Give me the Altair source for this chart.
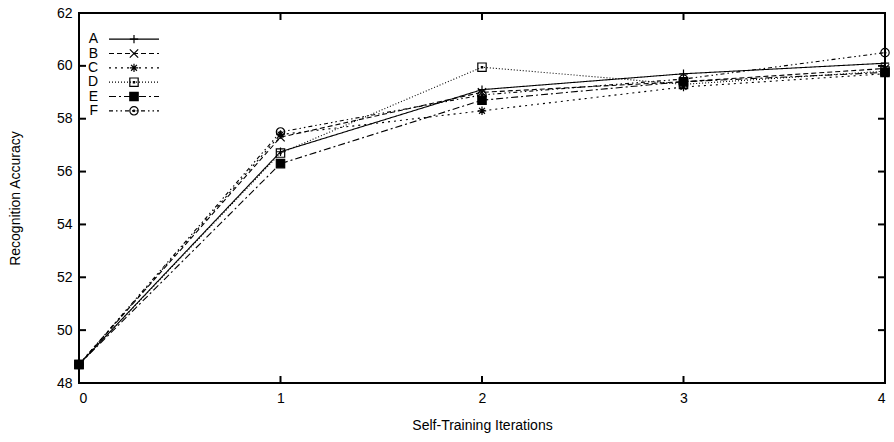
import altair as alt
import pandas as pd

iterations = [0, 1, 2, 3, 4]
series_names = ["A", "B", "C", "D", "E", "F"]
acc_A = [48.7, 56.75, 59.1, 59.7, 60.1]
acc_B = [48.7, 57.3, 59.0, 59.4, 59.9]
acc_C = [48.7, 57.4, 58.3, 59.2, 59.7]
acc_D = [48.7, 56.7, 59.95, 59.3, 59.8]
acc_E = [48.7, 56.3, 58.7, 59.4, 59.75]
acc_F = [48.7, 57.5, 58.9, 59.5, 60.5]
y_ticks = [48, 50, 52, 54, 56, 58, 60, 62]

all_series = [acc_A, acc_B, acc_C, acc_D, acc_E, acc_F]
rows = []
for name, vals in zip(series_names, all_series):
    for it, v in zip(iterations, vals):
        rows.append({"series": name, "iter": it, "acc": v})
df = pd.DataFrame(rows)
legend_df = pd.DataFrame({"series": series_names})
ytick_df = pd.DataFrame({"acc": y_ticks})
xtick_df = pd.DataFrame({"iter": iterations})

W, H = 806, 370
FONT = "Liberation Sans"
TK = 7

dash_scale = alt.Scale(domain=series_names,
                       range=[[1, 0], [5, 3], [2, 4], [1, 2], [7, 3, 2, 3], [4, 3, 1.5, 3, 1.5, 3]])
shape_scale = alt.Scale(domain=series_names, range=[
    "M-1,0L1,0M0,-1L0,1",
    "M-1,-1L1,1M-1,1L1,-1",
    "M-1,0L1,0M0,-1L0,1M-0.7,-0.7L0.7,0.7M-0.7,0.7L0.7,-0.7",
    "M-1,-1L1,-1L1,1L-1,1ZM-0.15,-0.15L0.15,-0.15L0.15,0.15L-0.15,0.15Z",
    "M-1,-1L1,-1L1,1L-1,1Z",
    "M-1,0A1,1,0,1,0,1,0A1,1,0,1,0,-1,0ZM-0.2,0A0.2,0.2,0,1,0,0.2,0A0.2,0.2,0,1,0,-0.2,0Z",
])
fill_scale = alt.Scale(domain=series_names,
                       range=["transparent", "transparent", "transparent", "transparent", "black", "transparent"])

axis_common = dict(ticks=False, domain=False, grid=False,
                   gridOpacity=0, gridWidth=0, tickOpacity=0, domainOpacity=0,
                   labelFont=FONT, titleFont=FONT, labelFontSize=14, titleFontSize=14,
                   labelColor="black", titleColor="black", titleFontWeight="normal")

x_scale = alt.Scale(domain=[0, 4], nice=False)
y_scale = alt.Scale(domain=[48, 62], nice=False, zero=False)
x_axis = alt.Axis(values=iterations, format="d", title="Self-Training Iterations",
                  labelPadding=8, titleX=W / 2, titleY=42, titleBaseline="middle",
                  **axis_common)
y_axis = alt.Axis(values=y_ticks, title="Recognition Accuracy",
                  labelPadding=7, titleX=-64, titleY=H / 2,
                  titleBaseline="middle", titleAlign="center",
                  **axis_common)
x_enc = alt.X("iter:Q", scale=x_scale, axis=x_axis)
y_enc = alt.Y("acc:Q", scale=y_scale, axis=y_axis)

lines = alt.Chart(df).mark_line(color="black", strokeWidth=1.1).encode(
    x=x_enc, y=y_enc,
    strokeDash=alt.StrokeDash("series:N", scale=dash_scale, legend=None),
    detail="series:N",
)
points = alt.Chart(df).mark_point(stroke="black", strokeWidth=1.2, opacity=1, size=70).encode(
    x=x_enc, y=y_enc,
    shape=alt.Shape("series:N", scale=shape_scale, legend=None),
    fill=alt.Fill("series:N", scale=fill_scale, legend=None),
)
ytick_l = alt.Chart(ytick_df).mark_tick(color="black", thickness=2, size=TK, opacity=1,
                                        orient="horizontal").encode(
    y=y_enc, x=alt.value(TK / 2))
ytick_r = alt.Chart(ytick_df).mark_tick(color="black", thickness=2, size=TK, opacity=1,
                                        orient="horizontal").encode(
    y=y_enc, x=alt.value(W - TK / 2))
xtick_b = alt.Chart(xtick_df).mark_tick(color="black", thickness=2, size=TK, opacity=1,
                                        orient="vertical").encode(
    x=x_enc, y=alt.value(H - TK / 2))
xtick_t = alt.Chart(xtick_df).mark_tick(color="black", thickness=2, size=TK, opacity=1,
                                        orient="vertical").encode(
    x=x_enc, y=alt.value(TK / 2))

leg_off = alt.YOffset("series:N", scale=alt.Scale(domain=series_names, range=[19, 105], padding=0))
leg_text = alt.Chart(legend_df).mark_text(align="right", baseline="middle", font=FONT,
                                          fontSize=14, color="black").encode(
    x=alt.value(19), y=alt.value(0), yOffset=leg_off, text="series:N")
leg_rule = alt.Chart(legend_df).mark_rule(color="black", strokeWidth=1.1).encode(
    x=alt.value(30), x2=alt.value(80), y=alt.value(0), yOffset=leg_off,
    strokeDash=alt.StrokeDash("series:N", scale=dash_scale, legend=None))
leg_pts = alt.Chart(legend_df).mark_point(stroke="black", strokeWidth=1.2, opacity=1, size=70).encode(
    x=alt.value(55), y=alt.value(0), yOffset=leg_off,
    shape=alt.Shape("series:N", scale=shape_scale, legend=None),
    fill=alt.Fill("series:N", scale=fill_scale, legend=None))

chart = alt.layer(lines, points, ytick_l, ytick_r, xtick_b, xtick_t,
                  leg_rule, leg_pts, leg_text).properties(
    width=W, height=H,
    background="white",
    autosize=alt.AutoSizeParams(type="none"),
    padding={"left": 79, "top": 13, "right": 9, "bottom": 59},
).configure_view(stroke="black", strokeWidth=2).configure_axis(
    grid=False, gridOpacity=0, tickOpacity=0, domainOpacity=0)

chart.save("out.html", embed_options={"renderer": "svg", "actions": False})
